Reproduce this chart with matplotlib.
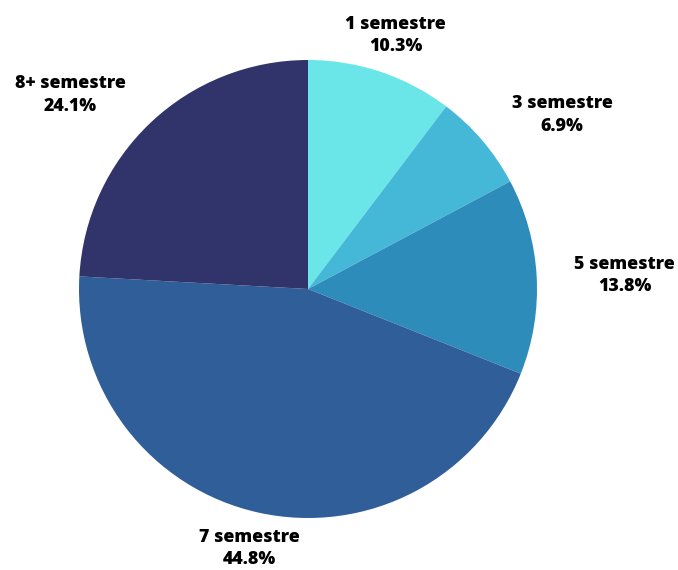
import numpy as np
import matplotlib.pyplot as plt
from matplotlib import font_manager as fm

labels = ['1 semestre', '3 semestre', '5 semestre', '7 semestre', '8+ semestre']
shares = [10.3, 6.9, 13.8, 44.8, 24.1]
colors = ['#6AE5E8', '#45B8D8', '#2E8CBB', '#2F5E99', '#30346B']

# pick the static Open Sans ExtraBold file if it is there
xb = [f.fname for f in fm.fontManager.ttflist if f.fname.endswith('OpenSans-ExtraBold.ttf')]
if xb:
    font = fm.FontProperties(fname=xb[0], size=12.8)
else:
    font = fm.FontProperties(family='Open Sans', weight='bold', size=12.8)

fig = plt.figure(figsize=(6.78, 5.70), dpi=100)
ax = fig.add_axes([0, 0, 1, 1])
ax.axis('off')

radius = 229
wedges, _ = ax.pie(shares, colors=colors, startangle=90, counterclock=False,
                   radius=radius, wedgeprops=dict(linewidth=0))
# axes units are pixels, pie centre at origin
ax.set_xlim(-308, 370)
ax.set_ylim(-281, 289)
ax.set_aspect('auto')

# label distance (px) and angle nudge (deg) per slice
label_dist = [268, 308, 317, 266, 307]
label_nudge = [-0.5, -6.1, -0.7, -0.3, 7.4]
for w, lab, val, d, nd in zip(wedges, labels, shares, label_dist, label_nudge):
    ang = np.deg2rad((w.theta1 + w.theta2) / 2 + nd)
    ax.text(d * np.cos(ang), d * np.sin(ang), f'{lab}\n{val:.1f}%',
            ha='center', va='center', fontproperties=font,
            linespacing=1.42, color='black')

fig.savefig('out.png', dpi=100)
